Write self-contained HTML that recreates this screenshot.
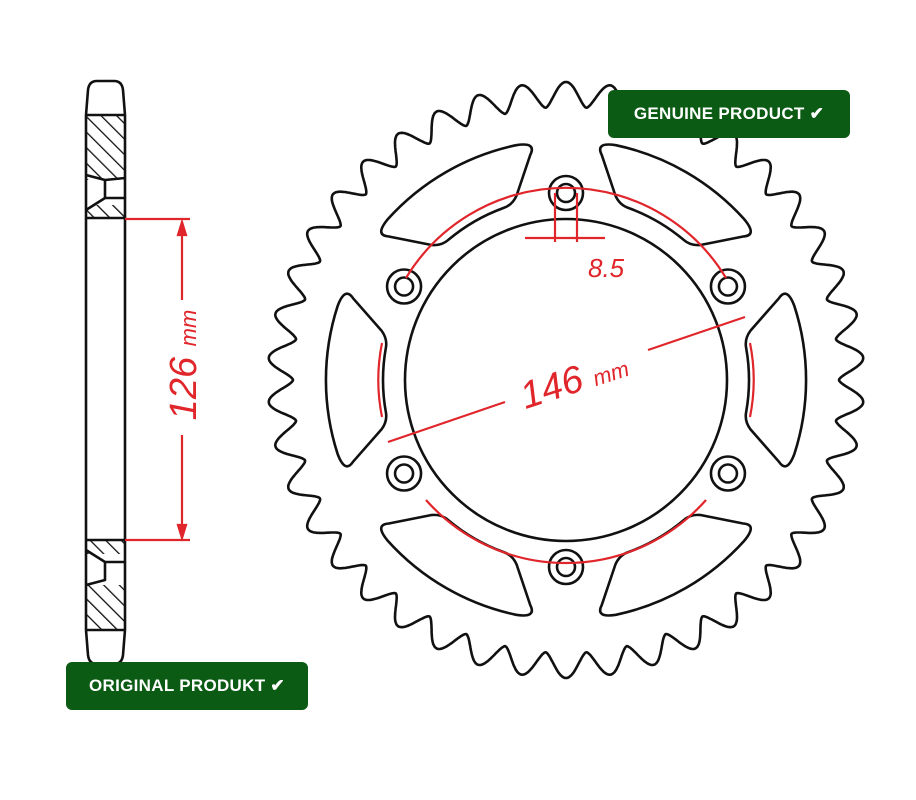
<!DOCTYPE html>
<html><head><meta charset="utf-8"><style>
body{margin:0;background:#fff;width:916px;height:800px;overflow:hidden;position:relative;font-family:"Liberation Sans",sans-serif}
.b{position:absolute;background:#0c5b14;color:#fff;font-weight:bold;font-size:17px;border-radius:6px;display:flex;align-items:center;justify-content:center;letter-spacing:.3px}
</style></head><body>
<svg width="916" height="800" style="position:absolute;left:0;top:0">
<defs>
<pattern id="h" width="11" height="11" patternUnits="userSpaceOnUse" patternTransform="rotate(-45)"><line x1="0" y1="0" x2="0" y2="11" stroke="#111" stroke-width="2.6"/></pattern>
</defs>
<g fill="none" stroke="#111" stroke-width="2.6" stroke-linejoin="round">
<path d="M86 115 L88 90 Q89 81 97 81 L114 81 Q122 81 123 90 L125 115"/>
<line x1="86" y1="115" x2="86" y2="630"/><line x1="125" y1="115" x2="125" y2="630"/>
<line x1="86" y1="115" x2="125" y2="115"/>
<rect x="86" y="115" width="39" height="65" fill="url(#h)" stroke="none"/>
<path d="M86 175 L105 180 L125 178" />
<path d="M105 180 L105 198 L86 210 M105 198 L125 198"/>
<rect x="87" y="205" width="37" height="13" fill="url(#h)" stroke="none"/>
<line x1="86" y1="218" x2="125" y2="218"/>
<line x1="86" y1="540" x2="125" y2="540"/>
<rect x="87" y="541" width="37" height="13" fill="url(#h)" stroke="none"/>
<path d="M105 562 L105 580 L86 585 M105 562 L86 550 M105 562 L125 562"/>
<rect x="86" y="585" width="39" height="45" fill="url(#h)" stroke="none"/>
<path d="M86 630 L88 655 Q89 664 97 664 L114 664 Q122 664 123 655 L125 630"/>
<line x1="86" y1="630" x2="125" y2="630"/>
<path id="teeth"/>
<circle cx="566" cy="380" r="161"/>
<g id="holes"></g>
<g id="slots"></g>
</g>
<g stroke="#e0262b" stroke-width="2.2" fill="none">
<line x1="125" y1="219" x2="190" y2="219"/><line x1="125" y1="540" x2="190" y2="540"/>
<line x1="182" y1="222" x2="182" y2="300"/><line x1="182" y1="435" x2="182" y2="537"/>
<path d="M178 235 L182 222 L186 235 Z M178 525 L182 538 L186 525 Z" fill="#e0262b"/>
<path d="M406 278 A187 187 0 0 1 726 278" />
<path d="M382 343 A187 187 0 0 0 382 417"/>
<path d="M426 500 A187 187 0 0 0 706 500"/>
<path d="M750 343 A187 187 0 0 1 750 417"/>
<line x1="388" y1="442" x2="505" y2="402"/><line x1="648" y1="350" x2="745" y2="317"/>
<line x1="555" y1="193" x2="555" y2="242"/><line x1="577" y1="193" x2="577" y2="242"/>
<line x1="525" y1="238" x2="605" y2="238"/>
</g>
<text x="0" y="0" transform="translate(196 365) rotate(-90)" text-anchor="middle" fill="#e0262b" font-size="38" font-family="Liberation Sans" font-style="italic">126 <tspan font-size="22">mm</tspan></text>
<text x="0" y="0" transform="translate(578 392) rotate(-18)" text-anchor="middle" fill="#e0262b" font-size="38" font-family="Liberation Sans" font-style="italic">146 <tspan font-size="22">mm</tspan></text>
<text x="588" y="277" fill="#e0262b" font-size="26" font-family="Liberation Sans" font-style="italic">8.5</text>
</svg>
<div class="b" style="left:608px;top:90px;width:242px;height:48px">GENUINE PRODUCT ✔</div>
<div class="b" style="left:66px;top:662px;width:242px;height:48px">ORIGINAL PRODUKT ✔</div>
<script>
var cx=566,cy=380,n=42,d="";
for(var i=0;i<=2400;i++){var t=i/2400*2*Math.PI;var c=(1+Math.cos(n*(t+Math.PI/2)))/2;var r=273+25*Math.pow(c,0.8);
d+=(i?"L":"M")+(cx+r*Math.cos(t)).toFixed(1)+" "+(cy+r*Math.sin(t)).toFixed(1);}
document.getElementById("teeth").setAttribute("d",d+"Z");
var h="";for(var k=0;k<6;k++){var a=(30+60*k)*Math.PI/180;var x=cx+187*Math.cos(a),y=cy-187*Math.sin(a);
h+='<circle cx="'+x+'" cy="'+y+'" r="17"/><circle cx="'+x+'" cy="'+y+'" r="9"/>';}
document.getElementById("holes").innerHTML=h;
var s="";function P(r,deg){var a=deg*Math.PI/180;return (cx+r*Math.cos(a)).toFixed(1)+" "+(cy+r*Math.sin(a)).toFixed(1);}
for(var k=0;k<6;k++){var b=60*k;
s+='<path d="M'+P(228,b-21)+' Q'+P(240,b-23)+' '+P(240,b-18)+' A240 240 0 0 1 '+P(240,b+18)+' Q'+P(240,b+23)+' '+P(228,b+21)+' L'+P(191,b+15)+' Q'+P(183,b+13)+' '+P(183,b+10)+' A183 183 0 0 0 '+P(183,b-10)+' Q'+P(183,b-13)+' '+P(191,b-15)+' Z"/>';}
document.getElementById("slots").innerHTML=s;
</script>
</body></html>
